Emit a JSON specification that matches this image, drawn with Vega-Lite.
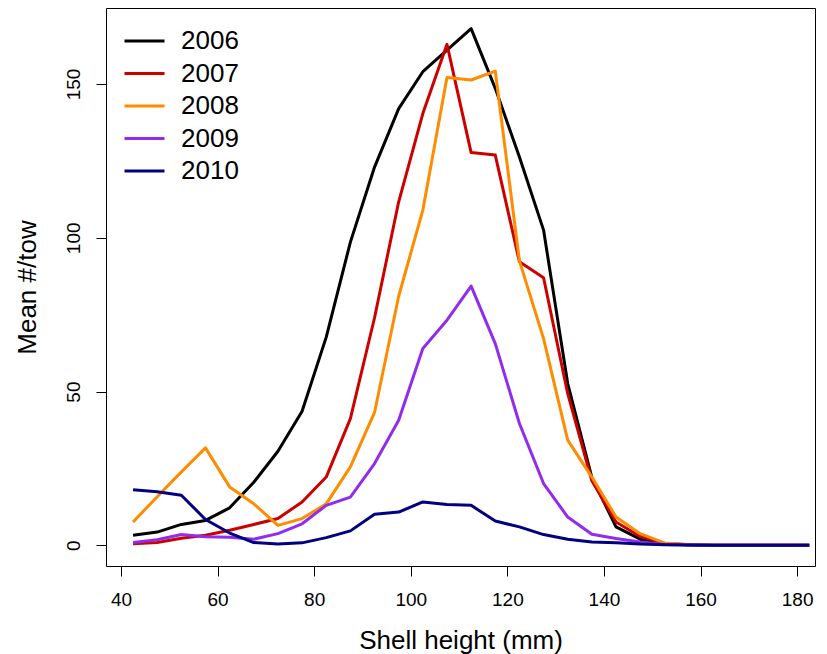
{
  "$schema": "https://vega.github.io/schema/vega-lite/v6.json",
  "width": 709,
  "height": 558,
  "autosize": "none",
  "padding": {"left": 106, "top": 8, "right": 12, "bottom": 88},
  "background": "white",
  "data": {
    "values": [
      {"h": 42.5, "2006": 3.3, "2007": 0.5, "2008": 7.6, "2009": 0.9, "2010": 18.1},
      {"h": 47.5, "2006": 4.3, "2007": 0.9, "2008": 15.8, "2009": 1.8, "2010": 17.4},
      {"h": 52.5, "2006": 6.8, "2007": 2.3, "2008": 23.9, "2009": 3.5, "2010": 16.3},
      {"h": 57.5, "2006": 8.1, "2007": 3.3, "2008": 31.7, "2009": 2.8, "2010": 8.4},
      {"h": 62.5, "2006": 12.2, "2007": 4.9, "2008": 19.0, "2009": 2.6, "2010": 4.0},
      {"h": 67.5, "2006": 20.5, "2007": 6.8, "2008": 13.5, "2009": 2.0, "2010": 0.9},
      {"h": 72.5, "2006": 30.6, "2007": 8.7, "2008": 6.5, "2009": 3.8, "2010": 0.4},
      {"h": 77.5, "2006": 43.6, "2007": 14.1, "2008": 8.7, "2009": 7.0, "2010": 0.8},
      {"h": 82.5, "2006": 67.7, "2007": 22.2, "2008": 13.5, "2009": 13.0, "2010": 2.5},
      {"h": 87.5, "2006": 98.6, "2007": 41.2, "2008": 25.5, "2009": 15.7, "2010": 4.7},
      {"h": 92.5, "2006": 123.0, "2007": 74.0, "2008": 43.2, "2009": 26.6, "2010": 10.1},
      {"h": 97.5, "2006": 142.0, "2007": 111.7, "2008": 81.0, "2009": 40.7, "2010": 10.8},
      {"h": 102.5, "2006": 154.0, "2007": 140.4, "2008": 109.0, "2009": 64.0, "2010": 14.1},
      {"h": 107.5, "2006": 161.0, "2007": 162.9, "2008": 152.1, "2009": 73.2, "2010": 13.3},
      {"h": 112.5, "2006": 168.0, "2007": 127.7, "2008": 151.3, "2009": 84.3, "2010": 13.0},
      {"h": 117.5, "2006": 148.6, "2007": 126.9, "2008": 154.2, "2009": 65.6, "2010": 7.9},
      {"h": 122.5, "2006": 126.3, "2007": 92.2, "2008": 92.5, "2009": 39.6, "2010": 6.0},
      {"h": 127.5, "2006": 102.5, "2007": 87.0, "2008": 67.2, "2009": 20.1, "2010": 3.5},
      {"h": 132.5, "2006": 52.6, "2007": 49.3, "2008": 34.2, "2009": 9.2, "2010": 2.0},
      {"h": 137.5, "2006": 22.0, "2007": 21.0, "2008": 22.2, "2009": 3.6, "2010": 1.1},
      {"h": 142.5, "2006": 6.0, "2007": 7.6, "2008": 9.2, "2009": 2.2, "2010": 0.8},
      {"h": 147.5, "2006": 2.0, "2007": 2.9, "2008": 3.8, "2009": 1.1, "2010": 0.4},
      {"h": 152.5, "2006": 0.5, "2007": 0.7, "2008": 0.8, "2009": 0.3, "2010": 0.2},
      {"h": 157.5, "2006": 0.2, "2007": 0.2, "2008": 0.3, "2009": 0.1, "2010": 0.1},
      {"h": 162.5, "2006": 0, "2007": 0, "2008": 0, "2009": 0, "2010": 0},
      {"h": 167.5, "2006": 0, "2007": 0, "2008": 0, "2009": 0, "2010": 0},
      {"h": 172.5, "2006": 0, "2007": 0, "2008": 0, "2009": 0, "2010": 0},
      {"h": 177.5, "2006": 0, "2007": 0, "2008": 0, "2009": 0, "2010": 0},
      {"h": 182.5, "2006": 0, "2007": 0, "2008": 0, "2009": 0, "2010": 0}
    ]
  },
  "transform": [
    {"fold": ["2006", "2007", "2008", "2009", "2010"], "as": ["year", "n"]}
  ],
  "mark": {"type": "line", "strokeWidth": 3, "strokeJoin": "round", "strokeCap": "butt"},
  "encoding": {
    "x": {
      "field": "h",
      "type": "quantitative",
      "scale": {"domain": [36.9, 183.7], "nice": false, "zero": false},
      "axis": {
        "values": [40, 60, 80, 100, 120, 140, 160, 180],
        "title": "Shell height (mm)",
        "labelPadding": 14,
        "titlePadding": 18
      }
    },
    "y": {
      "field": "n",
      "type": "quantitative",
      "scale": {"domain": [-6.72, 174.72], "nice": false, "zero": false},
      "axis": {
        "values": [0, 50, 100, 150],
        "title": "Mean #/tow",
        "labelAngle": -90,
        "labelAlign": "center",
        "labelBaseline": "alphabetic",
        "labelPadding": 17,
        "titlePadding": 24
      }
    },
    "color": {
      "field": "year",
      "type": "nominal",
      "scale": {
        "domain": ["2006", "2007", "2008", "2009", "2010"],
        "range": ["#000000", "#CD0000", "#FF8C00", "#912CEE", "#000080"]
      },
      "legend": {
        "title": null,
        "orient": "none",
        "legendX": 17,
        "legendY": 20,
        "symbolType": "stroke",
        "symbolSize": 1600,
        "symbolStrokeWidth": 3,
        "clipHeight": 26,
        "rowPadding": 6.5,
        "labelOffset": 15,
        "labelFontSize": 26,
        "labelFont": "Liberation Sans",
        "labelColor": "black",
        "padding": 0
      }
    }
  },
  "config": {
    "view": {"stroke": "black", "strokeWidth": 1},
    "axis": {
      "domain": false,
      "grid": false,
      "ticks": true,
      "tickColor": "black",
      "tickWidth": 1,
      "tickSize": 10,
      "labelColor": "black",
      "titleColor": "black",
      "labelFont": "Liberation Sans",
      "titleFont": "Liberation Sans",
      "labelFontSize": 19,
      "titleFontSize": 26,
      "titleFontWeight": "normal"
    }
  }
}
